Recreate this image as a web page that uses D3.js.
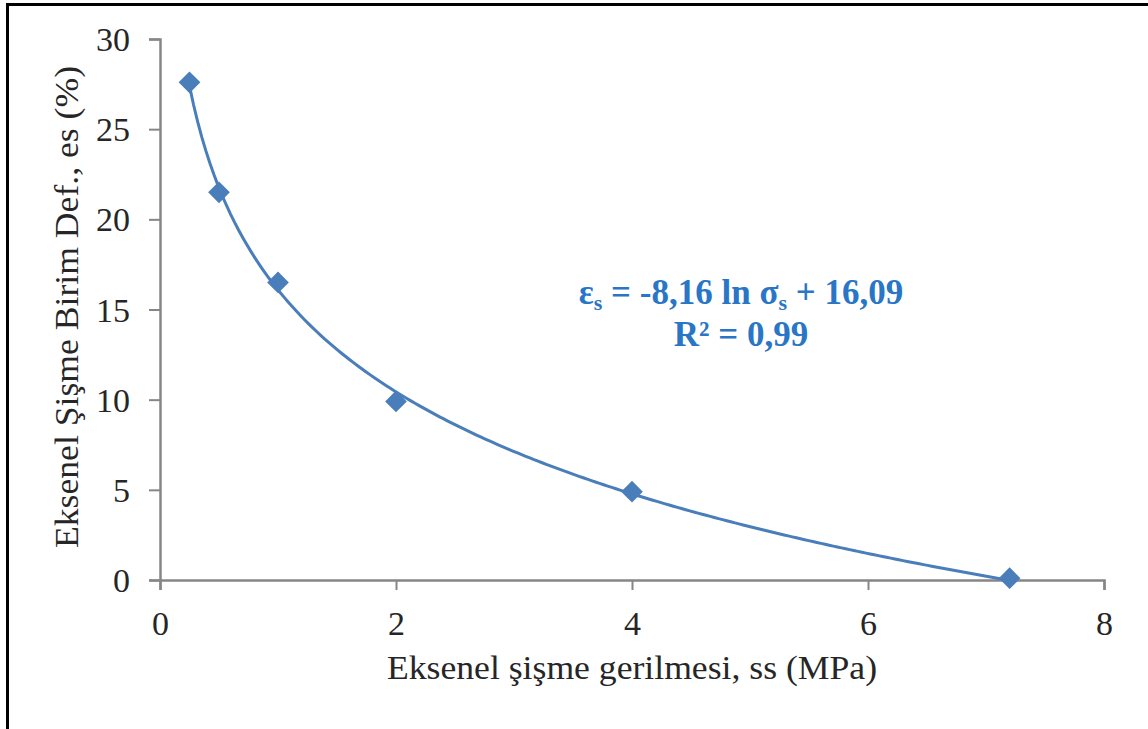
<!DOCTYPE html>
<html>
<head>
<meta charset="utf-8">
<script src="https://cdn.jsdelivr.net/npm/d3@7"></script>
<style>
    body { margin: 0; background: #fff; }
    #chart { width: 1148px; height: 729px; }
    text { font-family: "Liberation Serif", "Times New Roman", serif; }
</style>
</head>
<body>
<div id="chart"></div>
<script>
// data
let stressValues = [0.25, 0.5, 1, 2, 4, 7.2];        // σs (MPa)
let strainValues = [27.6, 21.5, 16.5, 9.9, 4.9, 0.1]; // εs (%)
let xTicks = [0, 2, 4, 6, 8];
let yTicks = [0, 5, 10, 15, 20, 25, 30];

// trendline coefficients as printed on the chart
let fitSlope = -8.16;
let fitIntercept = 16.09;

let xTitle = "Eksenel şişme gerilmesi, ss (MPa)";
let yTitle = "Eksenel Şişme Birim Def., es (%)";

class ScatterVis {

    constructor(parentElement) {
        this.parentElement = parentElement;
        this.initVis();
    }

    initVis() {
        let vis = this;

        vis.margin = {top: 39, right: 44, bottom: 149, left: 160};
        vis.width = 1148 - vis.margin.left - vis.margin.right;
        vis.height = 729 - vis.margin.top - vis.margin.bottom;

        vis.root = d3.select("#" + vis.parentElement).append("svg")
            .attr("width", 1148)
            .attr("height", 729);

        // frame (only top and left edges are visible in the picture)
        vis.root.append("rect")
            .attr("x", 7.5).attr("y", 4.5)
            .attr("width", 1300).attr("height", 900)
            .attr("fill", "none")
            .attr("stroke", "#000")
            .attr("stroke-width", 3);

        vis.svg = vis.root.append("g")
            .attr("transform", `translate(${vis.margin.left}, ${vis.margin.top})`);

        vis.xScale = d3.scaleLinear().domain([0, 8]).range([0, vis.width]);
        vis.yScale = d3.scaleLinear().domain([0, 30]).range([vis.height, 0]);

        vis.xAxis = d3.axisBottom(vis.xScale).tickValues(xTicks).tickSize(10).tickPadding(21);
        vis.yAxis = d3.axisLeft(vis.yScale).tickValues(yTicks).tickSize(11).tickPadding(19);

        vis.svg.append("g").attr("class", "x-axis")
            .attr("transform", `translate(0, ${vis.height})`)
            .call(vis.xAxis);
        vis.svg.append("g").attr("class", "y-axis")
            .call(vis.yAxis);

        vis.svg.selectAll(".x-axis path, .y-axis path")
            .attr("stroke", "#868686").attr("stroke-width", 2.5);
        vis.svg.selectAll(".tick line")
            .attr("stroke", "#868686").attr("stroke-width", 2);
        vis.svg.selectAll(".tick text")
            .attr("font-size", 34)
            .attr("fill", "#262626");
        vis.svg.selectAll(".y-axis .tick text").attr("dy", "0.34em");

        // axis titles
        vis.svg.append("text")
            .attr("x", vis.width / 2)
            .attr("y", 679 - vis.margin.top)
            .attr("text-anchor", "middle")
            .attr("font-size", 33)
            .attr("textLength", 490)
            .attr("lengthAdjust", "spacingAndGlyphs")
            .attr("fill", "#262626")
            .text(xTitle);

        vis.svg.append("text")
            .attr("transform", `translate(${78 - vis.margin.left}, ${307 - vis.margin.top}) rotate(-90)`)
            .attr("text-anchor", "middle")
            .attr("font-size", 33)
            .attr("textLength", 482)
            .attr("lengthAdjust", "spacingAndGlyphs")
            .attr("fill", "#262626")
            .text(yTitle);

        vis.updateVis();
    }

    updateVis() {
        let vis = this;

        let points = stressValues.map((s, i) => ({x: s, y: strainValues[i]}));

        // logarithmic trendline over the data range
        let lo = d3.min(stressValues), hi = d3.max(stressValues);
        let trend = d3.range(0, 201).map(i => {
            let s = lo + (hi - lo) * i / 200;
            return {x: s, y: fitSlope * Math.log(s) + fitIntercept};
        });

        let line = d3.line()
            .x(d => vis.xScale(d.x))
            .y(d => vis.yScale(d.y));

        vis.svg.append("path")
            .datum(trend)
            .attr("d", line)
            .attr("fill", "none")
            .attr("stroke", "#4a7ebb")
            .attr("stroke-width", 3);

        let diamond = d3.symbol().type(d3.symbolDiamond2).size(300);

        vis.svg.selectAll(".point")
            .data(points)
            .enter()
            .append("path")
            .attr("class", "point")
            .attr("d", diamond)
            .attr("transform", d => `translate(${vis.xScale(d.x)}, ${vis.yScale(d.y)})`)
            .attr("fill", "#4a7ebb");

        // equation label
        let eq = vis.svg.append("text")
            .attr("x", 741 - vis.margin.left)
            .attr("y", 304 - vis.margin.top)
            .attr("text-anchor", "middle")
            .attr("font-size", 35)
            .attr("font-weight", "bold")
            .attr("fill", "#2a76c6");
        eq.append("tspan").text("ε");
        eq.append("tspan").attr("font-size", 22).attr("dy", 6).text("s");
        eq.append("tspan").attr("dy", -6).text(" = -8,16 ln σ");
        eq.append("tspan").attr("font-size", 22).attr("dy", 6).text("s");
        eq.append("tspan").attr("dy", -6).text(" + 16,09");

        vis.svg.append("text")
            .attr("x", 741 - vis.margin.left)
            .attr("y", 346 - vis.margin.top)
            .attr("text-anchor", "middle")
            .attr("font-size", 35)
            .attr("font-weight", "bold")
            .attr("fill", "#2a76c6")
            .text("R² = 0,99");
    }
}

new ScatterVis("chart");
</script>
</body>
</html>
